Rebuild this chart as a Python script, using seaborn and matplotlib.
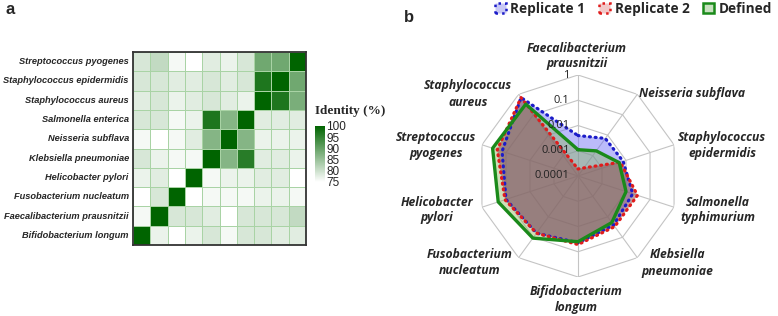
import numpy as np
import pandas as pd
import matplotlib
matplotlib.use('Agg')
import matplotlib.pyplot as plt
import seaborn as sns
from matplotlib.colors import LinearSegmentedColormap
from matplotlib.patches import Patch

# ---- panel a: pairwise identity (%) ----
row_names = ['Streptococcus pyogenes', 'Staphylococcus epidermidis', 'Staphylococcus aureus',
             'Salmonella enterica', 'Neisseria subflava', 'Klebsiella pneumoniae',
             'Helicobacter pylori', 'Fusobacterium nucleatum', 'Faecalibacterium prausnitzii',
             'Bifidobacterium longum']
col_names = row_names[::-1]

identity = [
    [79, 81, 76, 75, 78, 77, 79, 89, 89, 100],
    [79, 79, 78, 78, 79, 78, 79, 97, 100, 89],
    [78, 79, 77, 78, 79, 78, 77, 100, 97, 88],
    [79, 79, 76, 77, 97, 87, 100, 78, 78, 78],
    [76, 75, 76, 78, 87, 100, 87, 77, 77, 77],
    [79, 77, 76, 76, 100, 87, 96, 78, 78, 77],
    [77, 78, 75, 100, 76, 77, 77, 78, 78, 75],
    [75, 79, 100, 75, 76, 76, 76, 77, 77, 76],
    [76, 100, 79, 79, 78, 75, 79, 79, 79, 81],
    [100, 77, 75, 77, 79, 76, 79, 79, 78, 78],
]
cbar_ticks = [75, 80, 85, 90, 95, 100]

# ---- panel b: relative abundance (log scale radar) ----
radar_taxa = ['Faecalibacterium\nprausnitzii', 'Neisseria subflava', 'Staphylococcus\nepidermidis',
              'Salmonella\ntyphimurium', 'Klebsiella\npneumoniae', 'Bifidobacterium\nlongum',
              'Fusobacterium\nnucleatum', 'Helicobacter\npylori', 'Streptococcus\npyogenes',
              'Staphylococcus\naureus']
replicate1 = [0.004, 0.0069, 0.0076, 0.019, 0.025, 0.044, 0.063, 0.10, 0.145, 0.69]
replicate2 = [0.00019, 0.00025, 0.0058, 0.03, 0.03, 0.052, 0.063, 0.11, 0.23, 0.69]
defined = [0.0011, 0.0017, 0.0052, 0.010, 0.019, 0.040, 0.11, 0.21, 0.36, 0.33]
ring_labels = ['0.0001', '0.001', '0.01', '0.1', '1']

W, H = 778, 316
fig = plt.figure(figsize=(W / 100, H / 100), dpi=100)
sns.set_style('white')
plt.rcParams['font.family'] = ['Liberation Sans', 'DejaVu Sans']


def px(x0, y0, x1, y1):
    """pixel box (top-left origin) -> figure fraction rect"""
    return [x0 / W, 1 - y1 / H, (x1 - x0) / W, (y1 - y0) / H]


# heatmap
ax_h = fig.add_axes(px(133, 52, 306, 245))
ax_c = fig.add_axes(px(315, 126, 325, 182))
df = pd.DataFrame(identity, index=row_names, columns=col_names)
cmap = LinearSegmentedColormap.from_list('wg', ['#ffffff', '#006400'], N=256)
sns.heatmap(df, ax=ax_h, cmap=cmap, vmin=75, vmax=100, linewidths=0.6,
            linecolor='#a9d3a5', cbar_ax=ax_c, cbar_kws={'ticks': cbar_ticks},
            xticklabels=False)
ax_h.set_yticklabels(row_names, fontsize=6.7, fontstyle='italic', fontweight='bold',
                     rotation=0)
ax_h.tick_params(axis='y', length=0, pad=3)
ax_h.set_xlabel('')
ax_h.set_ylabel('')
for sp in ax_h.spines.values():
    sp.set_visible(True)
    sp.set_linewidth(1.3)
    sp.set_color('#333333')
ax_c.tick_params(length=0, pad=1, labelsize=8.5)
cb = ax_h.collections[0].colorbar
if cb is not None:
    cb.outline.set_visible(False)
fig.text(315 / W, 1 - 111 / H, 'Identity (%)', fontsize=9.5, fontweight='bold',
         family='Liberation Serif', va='center', ha='left')

fig.text(6 / W, 1 - 10 / H, 'a', fontsize=12, fontweight='bold', va='center')
fig.text(404 / W, 1 - 17 / H, 'b', fontsize=12, fontweight='bold', va='center')

# radar
cx, cy, rad = 578, 176, 101
ax_r = fig.add_axes(px(cx - rad, cy - rad, cx + rad, cy + rad), projection='polar')
ax_r.set_theta_zero_location('N')
ax_r.set_theta_direction(-1)
n = len(radar_taxa)
theta = np.linspace(0, 2 * np.pi, n, endpoint=False)
tc = np.append(theta, theta[0])

grid_col = '#c4c4c4'
for k in range(1, 5):
    ax_r.plot(tc, [k] * (n + 1), color=grid_col, lw=0.8, zorder=1)
for t in theta:
    ax_r.plot([t, t], [0, 4], color=grid_col, lw=0.8, zorder=1)


def to_r(vals):
    r = np.log10(np.array(vals)) + 4
    return np.append(r, r[0])


r1, r2, rd = to_r(replicate1), to_r(replicate2), to_r(defined)
ax_r.fill(tc, r1, color='#6a6af5', alpha=0.45, lw=0, zorder=2)
ax_r.fill(tc, rd, color='#8cb45a', alpha=0.42, lw=0, zorder=3)
ax_r.fill(tc, r2, color='#8a5050', alpha=0.55, lw=0, zorder=4)
ax_r.plot(tc, r1, color='#1c1cc8', lw=2.3, ls=(0, (0.3, 1.5)), dash_capstyle='round', zorder=6)
ax_r.plot(tc, r2, color='#e01c1c', lw=2.3, ls=(0, (0.3, 1.5)), dash_capstyle='round', zorder=6)
ax_r.plot(tc, rd, color='#1a8a1a', lw=2.4, zorder=7)

ax_r.set_ylim(0, 4)
ax_r.set_xticks([])
ax_r.set_yticks([])
ax_r.grid(False)
ax_r.spines['polar'].set_visible(False)
ax_r.patch.set_alpha(0)

for k, lab in enumerate(ring_labels):
    ax_r.annotate(lab, (0, k), xytext=(-6, 0), textcoords='offset points', ha='right',
                  va='center', fontsize=8, family='Open Sans', color='#222222', zorder=8)

# label centres in pixels (layout only)
label_xy = [(577, 56), (692, 94), (722, 146), (718, 210), (677, 263),
            (576, 300), (470, 263), (437, 210), (436, 146), (468, 94)]
for lab, (lx, ly) in zip(radar_taxa, label_xy):
    fig.text(lx / W, 1 - ly / H, lab, ha='center', va='center', fontsize=8.7,
             fontstyle='italic', fontweight='bold', family='Open Sans', linespacing=1.3)

handles = [Patch(facecolor='#c8c8f5', edgecolor='#1c1cc8', linestyle=':', linewidth=1.8),
           Patch(facecolor='#f2c8c8', edgecolor='#e01c1c', linestyle=':', linewidth=1.8),
           Patch(facecolor='#c8e0c0', edgecolor='#1a8a1a', linewidth=1.8)]
fig.legend(handles, ['Replicate 1', 'Replicate 2', 'Defined'], loc='center right',
           bbox_to_anchor=(1.008, 1 - 9 / H), ncol=3, frameon=False, handlelength=0.8,
           handleheight=0.8, handletextpad=0.35, columnspacing=1.0,
           prop={'family': 'Open Sans', 'weight': 'bold', 'size': 9.8})

fig.savefig('out.png', dpi=100)
